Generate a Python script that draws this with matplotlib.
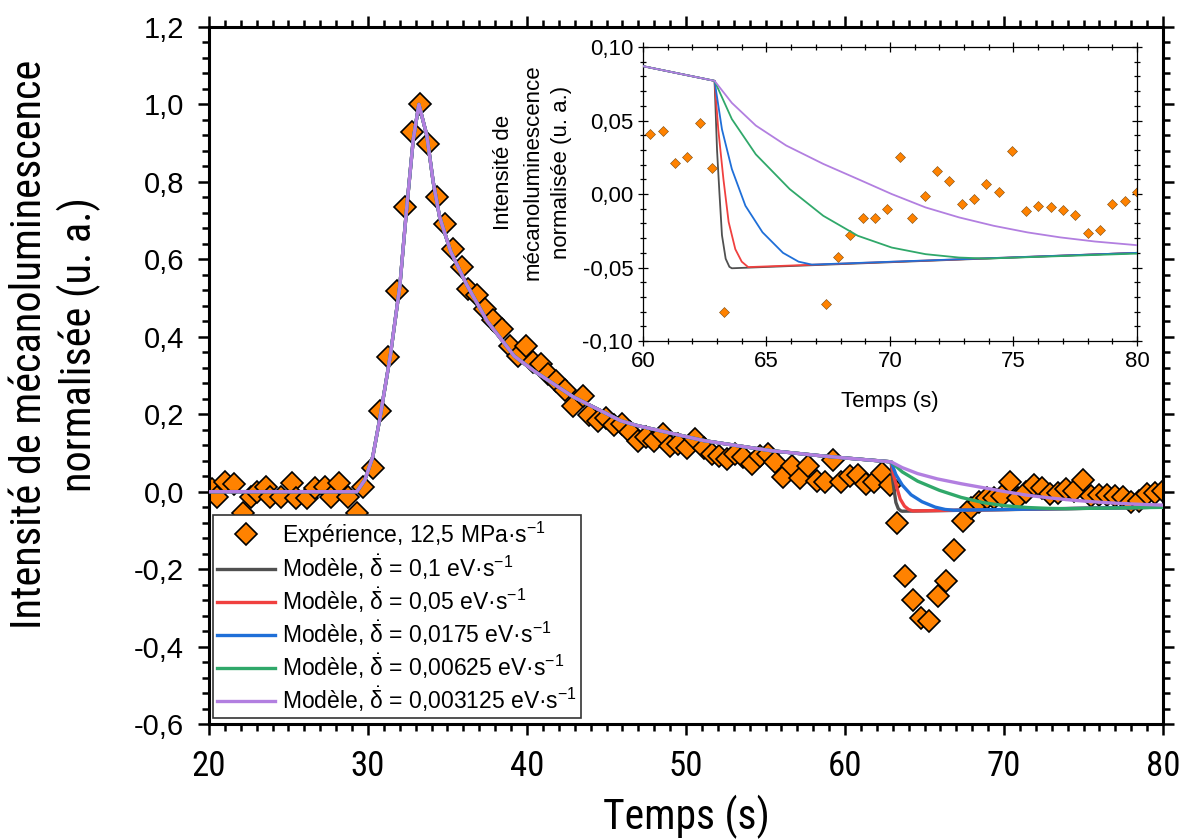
import matplotlib
matplotlib.use('Agg')
import matplotlib.pyplot as plt
from matplotlib.ticker import MultipleLocator, FuncFormatter

plt.rcParams['font.family'] = ['Liberation Sans', 'DejaVu Sans']
plt.rcParams['mathtext.default'] = 'regular'
NARROW = ['Roboto Condensed', 'Liberation Sans', 'DejaVu Sans']

# experimental points (time in s, normalised intensity)
exp_t = [20.17, 20.5, 21.0, 21.6, 22.15, 22.65, 23.0, 23.6, 23.85, 24.55,
         25.2, 25.5, 26.15, 26.65, 27.3, 27.7, 28.2, 28.75, 29.3, 29.7,
         30.3, 30.75, 31.28, 31.8, 32.33, 32.75, 33.27, 33.8, 34.32, 34.84,
         35.36, 35.89, 36.3, 36.84, 37.36, 37.88, 38.4, 38.9, 39.45, 39.95,
         40.4, 40.85, 41.35, 41.85, 42.4, 42.9, 43.5, 43.9, 44.45, 44.95,
         45.45, 45.95, 46.48, 47.0, 47.5, 47.98, 48.55, 49.0, 49.52, 50.05,
         50.57, 51.1, 51.62, 52.1, 52.57, 53.09, 53.6, 54.13, 54.65, 55.18,
         55.6, 56.13, 56.65, 57.17, 57.7, 58.22, 58.75, 59.26, 59.75, 60.3,
         60.8, 61.3, 61.8, 62.3, 62.8, 63.3, 63.8, 64.3, 64.8, 65.3,
         65.85, 66.35, 66.85, 67.4, 67.9, 68.4, 68.9, 69.4, 69.9, 70.4,
         70.9, 71.4, 71.9, 72.4, 72.9, 73.4, 73.9, 74.4, 74.95, 75.5,
         76.0, 76.5, 77.0, 77.5, 78.0, 78.5, 79.0, 79.5, 80.0]
exp_v = [0.006, -0.015, 0.026, 0.020, -0.056, -0.013, 0.0, 0.013, -0.013, -0.013,
         0.022, -0.017, -0.017, 0.009, 0.013, -0.013, 0.022, -0.013, -0.056, 0.013,
         0.061, 0.209, 0.347, 0.519, 0.735, 0.928, 1.0, 0.898, 0.760, 0.692,
         0.627, 0.580, 0.524, 0.507, 0.472, 0.442, 0.420, 0.377, 0.351, 0.377,
         0.335, 0.330, 0.304, 0.287, 0.262, 0.222, 0.248, 0.198, 0.183, 0.190,
         0.171, 0.175, 0.153, 0.132, 0.140, 0.132, 0.149, 0.119, 0.123, 0.114,
         0.136, 0.114, 0.097, 0.093, 0.084, 0.097, 0.089, 0.072, 0.093, 0.097,
         0.076, 0.037, 0.067, 0.034, 0.067, 0.028, 0.024, 0.081, 0.024, 0.041,
         0.043, 0.021, 0.025, 0.048, 0.0175, -0.080, -0.218, -0.280, -0.325, -0.335,
         -0.270, -0.230, -0.150, -0.075, -0.043, -0.028, -0.016, -0.016, -0.010, 0.0255,
         -0.016, -0.001, 0.016, 0.009, -0.007, -0.0036, 0.0066, 0.0011, 0.0295, -0.0114,
         -0.0082, -0.0091, -0.0109, -0.0141, -0.0268, -0.0245, -0.0066, -0.0045, 0.0014]

# model: part shared by every delta-dot value (up to the unloading at ~62.9 s)
common_t = [20.0, 29.3, 29.8, 30.3, 30.75, 31.4, 32.0, 32.45, 32.85, 33.2,
            33.7, 34.1, 34.5, 35.2, 36.2, 37.5, 39.2, 40.5, 42.9, 45.9,
            46.9, 51.1, 55.3, 58.4, 60.0, 62.9]
common_v = [0.0, 0.0, 0.03, 0.09, 0.19, 0.35, 0.53, 0.74, 0.91, 1.0,
            0.92, 0.80, 0.71, 0.62, 0.535, 0.44, 0.35, 0.31, 0.245, 0.183,
            0.171, 0.132, 0.106, 0.093, 0.087, 0.077]

# model tails after the unloading, one per delta-dot value
tail_01_t = [63.0, 63.1, 63.2, 63.35, 63.5, 63.6, 80.0]
tail_01_v = [0.030, 0.0, -0.028, -0.044, -0.0495, -0.0505, -0.040]
tail_005_t = [63.05, 63.26, 63.47, 63.74, 64.0, 64.26, 80.0]
tail_005_v = [0.044, 0.010, -0.019, -0.0375, -0.046, -0.0497, -0.040]
tail_00175_t = [63.2, 63.6, 64.15, 64.84, 65.67, 66.3, 66.84, 80.0]
tail_00175_v = [0.044, 0.017, -0.008, -0.026, -0.040, -0.046, -0.048, -0.040]
tail_000625_t = [63.6, 64.57, 65.94, 67.3, 68.7, 70.07, 71.44, 72.8, 73.9, 80.0]
tail_000625_v = [0.051, 0.027, 0.0034, -0.0148, -0.0284, -0.0364, -0.0409, -0.0432, -0.0439, -0.0405]
tail_0003125_t = [63.6, 64.57, 65.8, 67.3, 68.7, 70.07, 71.44, 72.8, 74.2, 75.57, 76.9, 78.3, 80.0]
tail_0003125_v = [0.062, 0.0466, 0.033, 0.0205, 0.0102, 0.0, -0.0091, -0.0159, -0.0216, -0.0261, -0.0295, -0.0323, -0.0348]

model_labels = ['0,1', '0,05', '0,0175', '0,00625', '0,003125']
model_colors = ['#505050', '#f0403f', '#1f6fd8', '#30a86a', '#b27fe0']
tails = [(tail_01_t, tail_01_v), (tail_005_t, tail_005_v), (tail_00175_t, tail_00175_v),
         (tail_000625_t, tail_000625_v), (tail_0003125_t, tail_0003125_v)]

orange = '#ff8200'

fig = plt.figure(figsize=(11.84, 8.4), dpi=100)
ax = fig.add_axes([0.1765, 0.1381, 0.8058, 0.8298])

ax.plot(exp_t, exp_v, 'D', ms=11, mfc=orange, mec='black', mew=1.2,
        label='Expérience, 12,5 MPa·s$^{-1}$', zorder=2)
for (tt, vv), lab, col in zip(tails, model_labels, model_colors):
    ax.plot(common_t + tt, common_v + vv, color=col, lw=2.4,
            label=r'Modèle, $\dot{\delta}$ = ' + lab + ' eV·s$^{-1}$', zorder=3)

ax.set_xlim(20, 80)
ax.set_ylim(-0.6, 1.2)
ax.xaxis.set_major_locator(MultipleLocator(10))
ax.xaxis.set_minor_locator(MultipleLocator(1))
ax.yaxis.set_major_locator(MultipleLocator(0.2))
ax.yaxis.set_minor_locator(MultipleLocator(0.04))
ax.yaxis.set_major_formatter(FuncFormatter(lambda v, p: ('%.1f' % v).replace('.', ',')))
ax.tick_params(which='both', direction='out', top=True, right=True, width=1.8)
ax.tick_params(which='major', length=8, labelsize=21)
ax.tick_params(which='minor', length=5)
ax.tick_params(axis='x', which='major', pad=11)
ax.tick_params(axis='y', which='major', pad=10)
for lbl in ax.get_xticklabels():
    lbl.set_family(NARROW)
    lbl.set_fontsize(25)
for s in ax.spines.values():
    s.set_linewidth(2.2)

ax.set_xlabel('Temps (s)', fontsize=30, family=NARROW, labelpad=8)
ax.set_ylabel('Intensité de mécanoluminescence\nnormalisée (u. a.)', fontsize=30.5,
              family=NARROW)
ax.yaxis.set_label_coords(-0.113, 0.544)

leg = ax.legend(loc='lower left', bbox_to_anchor=(0.004, 0.008), fontsize=16.5,
                frameon=True, fancybox=False, edgecolor='#333333', framealpha=1,
                handlelength=2.5, handletextpad=0.3, labelspacing=0.15,
                borderpad=0.2, borderaxespad=0)
leg.get_frame().set_linewidth(1.2)

# inset zoom on the unloading
ins = fig.add_axes([0.543, 0.594, 0.4173, 0.350])
ins.plot(exp_t, exp_v, 'D', ms=5.5, mfc=orange, mec='#7a4a10', mew=0.4, zorder=2)
for (tt, vv), col in zip(tails, model_colors):
    ins.plot(common_t + tt, common_v + vv, color=col, lw=1.3, zorder=3)
ins.set_xlim(60, 80)
ins.set_ylim(-0.10, 0.10)
ins.xaxis.set_major_locator(MultipleLocator(5))
ins.xaxis.set_minor_locator(MultipleLocator(1))
ins.yaxis.set_major_locator(MultipleLocator(0.05))
ins.yaxis.set_minor_locator(MultipleLocator(0.01))
ins.yaxis.set_major_formatter(FuncFormatter(lambda v, p: ('%.2f' % v).replace('.', ',')))
ins.tick_params(which='both', direction='inout', top=True, right=True, width=0.9)
ins.tick_params(which='major', length=7, labelsize=16)
ins.tick_params(which='minor', length=4)
for s in ins.spines.values():
    s.set_linewidth(0.9)
ins.set_xlabel('Temps (s)', fontsize=16, labelpad=14)
ins.set_ylabel('Intensité de\nmécanoluminescence\nnormalisée (u. a.)', fontsize=16,
               linespacing=1.5)
ins.yaxis.set_label_coords(-0.143, 0.575)

fig.savefig('out.png', dpi=100)
